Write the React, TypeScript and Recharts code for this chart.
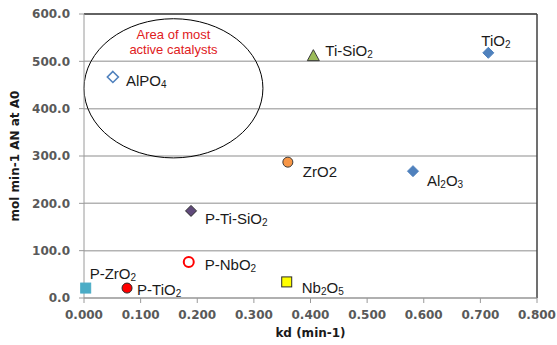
import React from 'react';
import {
  ScatterChart,
  Scatter,
  XAxis,
  YAxis,
  CartesianGrid,
  ReferenceArea,
  ReferenceLine,
} from 'recharts';

// catalyst names ("_" marks a subscript digit), deactivation rate, activity
const names = ['AlPO_4', 'Ti-SiO_2', 'TiO_2', 'ZrO2', 'Al_2O_3', 'P-Ti-SiO_2', 'P-NbO_2', 'P-ZrO_2', 'P-TiO_2', 'Nb_2O_5'];
const kd = [0.051, 0.405, 0.714, 0.36, 0.581, 0.189, 0.185, 0.003, 0.076, 0.358];
const activity = [467, 512, 518, 287, 268, 184, 76, 21, 21, 34];

const xTicks = [0, 0.1, 0.2, 0.3, 0.4, 0.5, 0.6, 0.7, 0.8];
const yTicks = [0, 100, 200, 300, 400, 500, 600];

// marker look + label offset per point
const markers = [
  { kind: 'diamond', fill: '#fff', stroke: '#4f81bd', sw: 1.6, dx: 13, dy: 3 },
  { kind: 'triangle', fill: '#9bbb59', stroke: '#3a3a3a', sw: 1, dx: 12, dy: -6 },
  { kind: 'diamond', fill: '#4f81bd', stroke: '#4f81bd', sw: 1, dx: -7, dy: -13 },
  { kind: 'circle', fill: '#f79646', stroke: '#3a3a3a', sw: 1, dx: 15, dy: 9 },
  { kind: 'diamond', fill: '#4f81bd', stroke: '#4f81bd', sw: 1, dx: 14, dy: 9 },
  { kind: 'diamond', fill: '#604a7b', stroke: '#2a2a2a', sw: 1, dx: 14, dy: 7 },
  { kind: 'circle', fill: '#fff', stroke: '#ff0000', sw: 2, dx: 16, dy: 2 },
  { kind: 'square', fill: '#4bacc6', stroke: '#4bacc6', sw: 1, dx: 4, dy: -15 },
  { kind: 'circle', fill: '#ff0000', stroke: '#2a2a2a', sw: 1, dx: 10, dy: 1 },
  { kind: 'square', fill: '#ffff00', stroke: '#2a2a2a', sw: 1, dx: 15, dy: 5 },
];

const data = names.map((name, i) => ({ name, kd: kd[i], activity: activity[i], idx: i }));

const LABEL_FONT = '"Liberation Sans", Arial, sans-serif';
const AXIS_FONT = '"DejaVu Sans", Verdana, sans-serif';

function SubText({ x, y, text }: { x: number; y: number; text: string }) {
  const parts = text.split(/(_\d)/).filter(Boolean);
  return (
    <text x={x} y={y} fontFamily={LABEL_FONT} fontSize={15} fill="#1a1a1a" dominantBaseline="central">
      {parts.map((p, i) =>
        p.startsWith('_') ? (
          <tspan key={i} fontSize={10} dy={4}>{p.slice(1)}</tspan>
        ) : (
          <tspan key={i} dy={i > 0 && parts[i - 1].startsWith('_') ? -4 : 0}>{p}</tspan>
        ),
      )}
    </text>
  );
}

function PointShape(props: any) {
  const { cx, cy, payload } = props;
  const m = markers[payload.idx];
  let mark: React.ReactNode = null;
  if (m.kind === 'diamond') {
    const r = 5.5;
    mark = <polygon points={`${cx},${cy - r} ${cx + r},${cy} ${cx},${cy + r} ${cx - r},${cy}`} fill={m.fill} stroke={m.stroke} strokeWidth={m.sw} />;
  } else if (m.kind === 'triangle') {
    mark = <polygon points={`${cx},${cy - 6} ${cx + 6},${cy + 5} ${cx - 6},${cy + 5}`} fill={m.fill} stroke={m.stroke} strokeWidth={m.sw} />;
  } else if (m.kind === 'circle') {
    mark = <circle cx={cx} cy={cy} r={5} fill={m.fill} stroke={m.stroke} strokeWidth={m.sw} />;
  } else {
    mark = <rect x={cx - 5} y={cy - 5} width={10} height={10} fill={m.fill} stroke={m.stroke} strokeWidth={m.sw} />;
  }
  return (
    <g>
      {mark}
      <SubText x={cx + m.dx} y={cy + m.dy} text={payload.name} />
    </g>
  );
}

function EllipseShape(props: any) {
  const { x, y, width, height } = props;
  const cx = x + width / 2;
  return (
    <g>
      <ellipse cx={cx} cy={y + height / 2} rx={width / 2} ry={height / 2} fill="none" stroke="#000" strokeWidth={1} />
      <text x={cx} y={y + 16} textAnchor="middle" fontFamily={LABEL_FONT} fontSize={13} fill="#e0201c" dominantBaseline="central">
        Area of most
      </text>
      <text x={cx} y={y + 31} textAnchor="middle" fontFamily={LABEL_FONT} fontSize={13} fill="#e0201c" dominantBaseline="central">
        active catalysts
      </text>
    </g>
  );
}

export default function App() {
  const tick = { fontSize: 12, fontFamily: AXIS_FONT, fontWeight: 700, fill: '#595959' };
  return (
    <div style={{ position: 'absolute', left: 0, top: 0, background: '#fff' }}>
      <ScatterChart width={557} height={345} margin={{ top: 14, right: 20, left: 0, bottom: 0 }}>
        <CartesianGrid vertical={false} stroke="#b3b3b3" strokeWidth={1.5} />
        <XAxis
          type="number"
          dataKey="kd"
          domain={[0, 0.8]}
          ticks={xTicks}
          tickFormatter={(v: number) => v.toFixed(3)}
          tick={tick}
          tickSize={5}
          tickMargin={7}
          height={47}
          stroke="#9a9a9a"
          label={(p: any) => {
            const vb = p.viewBox;
            return (
              <text x={vb.x + vb.width / 2} y={vb.y + 35} textAnchor="middle" fontFamily={AXIS_FONT} fontSize={12} fontWeight={700} fill="#1a1a1a" dominantBaseline="central">
                kd (min-1)
              </text>
            );
          }}
        />
        <YAxis
          type="number"
          dataKey="activity"
          domain={[0, 600]}
          ticks={yTicks}
          tickFormatter={(v: number) => v.toFixed(1)}
          tick={tick}
          tickSize={5}
          tickMargin={9}
          width={84}
          stroke="#9a9a9a"
          label={(p: any) => {
            const vb = p.viewBox;
            const cy = vb.y + vb.height / 2;
            return (
              <text x={15} y={cy} transform={`rotate(-90 15 ${cy})`} textAnchor="middle" fontFamily={AXIS_FONT} fontSize={12} fontWeight={700} fill="#1a1a1a" dominantBaseline="central">
                mol min-1 AN at A0
              </text>
            );
          }}
        />
        <ReferenceLine y={600} stroke="#404040" strokeWidth={1.5} />
        <ReferenceLine x={0.8} stroke="#404040" strokeWidth={1.5} />
        <ReferenceArea x1={0} x2={0.316} y1={296} y2={590} shape={EllipseShape} ifOverflow="visible" />
        <Scatter data={data} shape={PointShape} isAnimationActive={false} />
      </ScatterChart>
    </div>
  );
}
